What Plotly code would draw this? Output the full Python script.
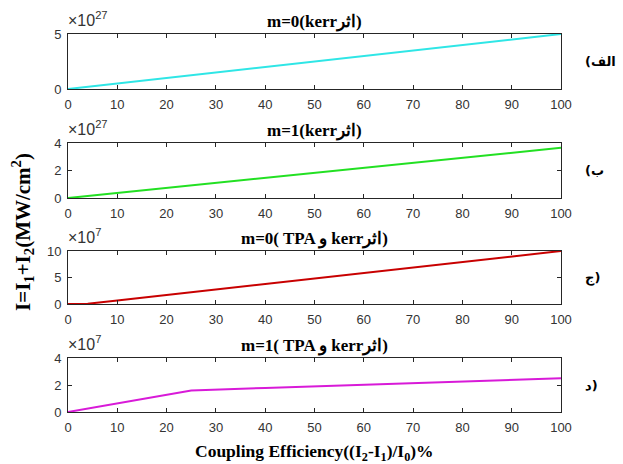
import plotly.graph_objects as go

# ---- data (values in units of the panel's exponent) ----
x1 = [0, 10, 20, 30, 40, 50, 60, 70, 80, 90, 100]
y1 = [0, 0.5, 1.0, 1.5, 2.0, 2.5, 3.0, 3.5, 4.0, 4.5, 5.0]          # x10^27, kerr, m=0
x2 = [0, 10, 20, 30, 40, 50, 60, 70, 80, 90, 100]
y2 = [0, 0.37, 0.73, 1.1, 1.46, 1.83, 2.19, 2.56, 2.92, 3.29, 3.65]  # x10^27, kerr, m=1
x3 = [0, 2, 4, 10, 20, 30, 40, 50, 60, 70, 80, 90, 100]
y3 = [0, 0.0, 0.05, 0.65, 1.7, 2.7, 3.75, 4.8, 5.85, 6.9, 7.9, 8.95, 10.0]  # x10^7, TPA+kerr, m=0
x4 = [0, 10, 25, 40, 50, 60, 70, 80, 90, 100]
y4 = [0, 0.63, 1.6, 1.78, 1.9, 2.02, 2.14, 2.26, 2.38, 2.5]         # x10^7, TPA+kerr, m=1

xticks = [0, 10, 20, 30, 40, 50, 60, 70, 80, 90, 100]
yticks = [[0, 5], [0, 2, 4], [0, 5, 10], [0, 2, 4]]
yranges = [[0, 5], [0, 4], [0, 10], [0, 4]]
exponents = ["27", "27", "7", "7"]
titles = ["m=0(kerrاثر)", "m=1(kerrاثر)", "m=0( TPA و kerrاثر)", "m=1( TPA و kerrاثر)"]
side_labels = ["(الف", "(ب", "ج)", "د)"]
colors = ["#2FE6E6", "#22E022", "#C80000", "#D81AD8"]
series = [(x1, y1), (x2, y2), (x3, y3), (x4, y4)]

W, H = 623, 464
L, R = 68, 561
panels_px = [(34, 89), (143, 198), (251, 304), (358, 412)]

fig = go.Figure()
layout = dict(
    width=W, height=H,
    margin=dict(l=L, r=W - R, t=0, b=0, pad=0, autoexpand=False),
    paper_bgcolor="white", plot_bgcolor="white",
    showlegend=False,
)
annotations = []
tickfont = dict(family="Liberation Sans, Arial", size=13, color="#333333")
for i, ((xs, ys), (top, bot)) in enumerate(zip(series, panels_px)):
    n = "" if i == 0 else str(i + 1)
    fig.add_trace(go.Scatter(x=xs, y=ys, mode="lines",
                             line=dict(color=colors[i], width=2),
                             xaxis="x" + n, yaxis="y" + n))
    layout["xaxis" + n] = dict(
        domain=[0, 1], anchor="y" + n, range=[0, 100], tickvals=xticks,
        ticks="inside", ticklen=4, tickcolor="#262626", showline=True,
        linecolor="#262626", linewidth=1, mirror="ticks", showgrid=False,
        zeroline=False, tickfont=tickfont, ticklabelstandoff=3, automargin=False,
    )
    layout["yaxis" + n] = dict(
        domain=[1 - bot / H, 1 - top / H], anchor="x" + n, range=yranges[i],
        tickvals=yticks[i], ticks="inside", ticklen=4, tickcolor="#262626",
        showline=True, linecolor="#262626", linewidth=1, mirror="ticks",
        showgrid=False, zeroline=False, tickfont=tickfont, ticklabelstandoff=3,
        automargin=False,
    )
    # exponent
    annotations.append(dict(xref="paper", yref="paper", x=0, xshift=-2, y=1 - top / H,
                            xanchor="left", yanchor="bottom", yshift=3,
                            text="×10<sup>" + exponents[i] + "</sup>",
                            showarrow=False,
                            font=dict(family="Liberation Sans, Arial", size=16, color="#333333")))
    # title
    annotations.append(dict(xref="paper", yref="paper", x=0.5, y=1 - top / H,
                            xanchor="center", yanchor="bottom", yshift=0,
                            text="<b>" + titles[i] + "</b>", showarrow=False,
                            font=dict(family="Liberation Serif, Times New Roman", size=17, color="black")))
    # side label
    annotations.append(dict(xref="paper", yref="paper", x=1, xshift=22,
                            y=1 - (top + bot) / 2 / H, xanchor="left", yanchor="middle",
                            text="<b>" + side_labels[i] + "</b>", showarrow=False,
                            font=dict(family="DejaVu Sans", size=13, color="black")))

annotations.append(dict(xref="paper", yref="paper", x=0.5, y=1 - 452 / H,
                        xanchor="center", yanchor="middle",
                        text="<b>Coupling Efficiency((I<sub>2</sub>-I<sub>1</sub>)/I<sub>0</sub>)%</b>",
                        showarrow=False,
                        font=dict(family="Liberation Serif, Times New Roman", size=17.5, color="black")))
annotations.append(dict(xref="paper", yref="paper", x=0, xshift=-46, y=1 - 232 / H,
                        xanchor="center", yanchor="middle", textangle=-90,
                        text="<b>I=I<sub>1</sub>+I<sub>2</sub>(MW/cm<sup>2</sup>)</b>",
                        showarrow=False,
                        font=dict(family="Liberation Serif, Times New Roman", size=21, color="black")))
layout["annotations"] = annotations
fig.update_layout(**layout)
fig.write_html(
    "out.html",
    config={"displayModeBar": False},
    post_script=("document.documentElement.style.margin='0';"
                 "document.documentElement.style.overflow='hidden';"
                 "document.body.style.margin='0';"
                 "document.body.style.overflow='hidden';"),
)
